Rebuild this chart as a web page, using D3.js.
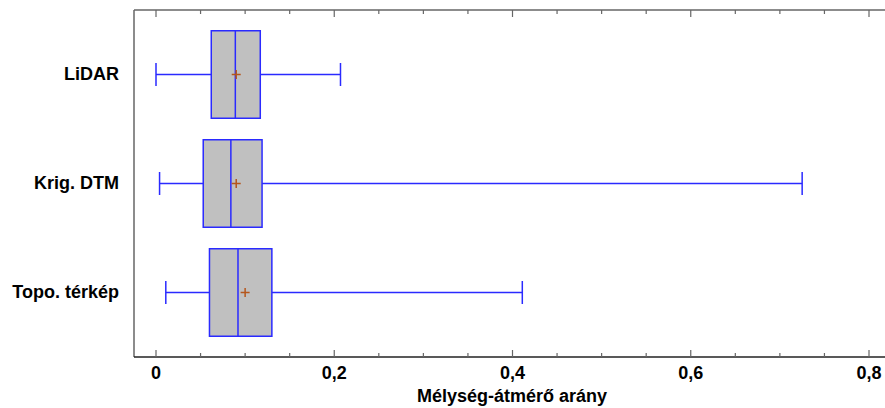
<!DOCTYPE html>
<html>
<head>
<meta charset="utf-8">
<script src="https://cdnjs.cloudflare.com/ajax/libs/d3/7.8.5/d3.min.js"></script>
<style>
    body { margin: 0; background: #fff; }
    text { font-family: "Liberation Sans", Arial, sans-serif; font-weight: bold; }
</style>
</head>
<body>
<div id="chart"></div>
<script>
var categories = ["LiDAR", "Krig. DTM", "Topo. térkép"];
var mins    = [0.000, 0.004, 0.011];
var q1s     = [0.062, 0.053, 0.060];
var medians = [0.089, 0.084, 0.092];
var q3s     = [0.117, 0.119, 0.130];
var maxs    = [0.207, 0.725, 0.411];
var means   = [0.090, 0.090, 0.100];
var major_ticks = [0, 0.2, 0.4, 0.6, 0.8];
var minor_ticks = d3.range(0, 17).map(function(i) { return i * 0.05; });

var width = 885, height = 408;
var frame = {left: 134, top: 10, right: 885, bottom: 357};

var svg = d3.select("#chart").append("svg")
    .attr("width", width)
    .attr("height", height);

var x = d3.scaleLinear()
    .domain([0, 0.8])
    .range([156, 869]);

var y = d3.scalePoint()
    .domain(categories)
    .range([74.5, 292.5]);

var box_h = 87.5;
var cap_h = 23;
var blue = "#2a2aff";

var boxes = categories.map(function(c, i) {
    return {cat: c, min: mins[i], q1: q1s[i], med: medians[i], q3: q3s[i], max: maxs[i], mean: means[i]};
});

// frame
svg.append("line")
    .attr("x1", frame.left).attr("x2", frame.right)
    .attr("y1", frame.top).attr("y2", frame.top)
    .attr("stroke", "#666").attr("stroke-width", 1.5);
svg.append("line")
    .attr("x1", frame.left).attr("x2", frame.left)
    .attr("y1", frame.top).attr("y2", frame.bottom)
    .attr("stroke", "#666").attr("stroke-width", 1.5);
svg.append("line")
    .attr("x1", frame.left).attr("x2", frame.right)
    .attr("y1", frame.bottom).attr("y2", frame.bottom)
    .attr("stroke", "#222").attr("stroke-width", 1.5);

// ticks, pointing inward on top and bottom
svg.selectAll(".tick_b")
    .data(minor_ticks)
    .enter()
    .append("line")
    .attr("class", "tick_b")
    .attr("x1", function(d) { return x(d); })
    .attr("x2", function(d) { return x(d); })
    .attr("y1", frame.bottom)
    .attr("y2", function(d, i) { return frame.bottom - (i % 4 === 0 ? 7 : 4); })
    .attr("stroke", "#666").attr("stroke-width", 1.2);

svg.selectAll(".tick_t")
    .data(minor_ticks)
    .enter()
    .append("line")
    .attr("class", "tick_t")
    .attr("x1", function(d) { return x(d); })
    .attr("x2", function(d) { return x(d); })
    .attr("y1", frame.top)
    .attr("y2", function(d, i) { return frame.top + (i % 4 === 0 ? 7 : 4); })
    .attr("stroke", "#666").attr("stroke-width", 1.2);

svg.selectAll(".tick_label")
    .data(major_ticks)
    .enter()
    .append("text")
    .attr("class", "tick_label")
    .text(function(d) { return d3.format(".1~f")(d).replace(".", ","); })
    .attr("x", function(d) { return x(d); })
    .attr("y", 378.5)
    .attr("text-anchor", "middle")
    .attr("font-size", 18)
    .attr("fill", "#000");

svg.append("text")
    .text("Mélység-átmérő arány")
    .attr("x", 512)
    .attr("y", 402)
    .attr("text-anchor", "middle")
    .attr("font-size", 18)
    .attr("fill", "#000");

svg.selectAll(".cat_label")
    .data(categories)
    .enter()
    .append("text")
    .attr("class", "cat_label")
    .text(function(d) { return d; })
    .attr("x", 119)
    .attr("y", function(d) { return y(d) + 5.5; })
    .attr("text-anchor", "end")
    .attr("font-size", 18)
    .attr("fill", "#000");

// boxes
var g = svg.selectAll(".box")
    .data(boxes)
    .enter()
    .append("g")
    .attr("class", "box")
    .attr("transform", function(d) { return "translate(0," + y(d.cat) + ")"; });

g.append("line")
    .attr("x1", function(d) { return x(d.min); })
    .attr("x2", function(d) { return x(d.q1); })
    .attr("y1", 0).attr("y2", 0)
    .attr("stroke", blue).attr("stroke-width", 1.5);

g.append("line")
    .attr("x1", function(d) { return x(d.q3); })
    .attr("x2", function(d) { return x(d.max); })
    .attr("y1", 0).attr("y2", 0)
    .attr("stroke", blue).attr("stroke-width", 1.5);

g.append("line")
    .attr("x1", function(d) { return x(d.min); })
    .attr("x2", function(d) { return x(d.min); })
    .attr("y1", -cap_h / 2).attr("y2", cap_h / 2)
    .attr("stroke", blue).attr("stroke-width", 1.5);

g.append("line")
    .attr("x1", function(d) { return x(d.max); })
    .attr("x2", function(d) { return x(d.max); })
    .attr("y1", -cap_h / 2).attr("y2", cap_h / 2)
    .attr("stroke", blue).attr("stroke-width", 1.5);

g.append("rect")
    .attr("x", function(d) { return x(d.q1); })
    .attr("width", function(d) { return x(d.q3) - x(d.q1); })
    .attr("y", -box_h / 2)
    .attr("height", box_h)
    .attr("fill", "#c0c0c0")
    .attr("stroke", blue).attr("stroke-width", 1.5);

g.append("line")
    .attr("x1", function(d) { return x(d.med); })
    .attr("x2", function(d) { return x(d.med); })
    .attr("y1", -box_h / 2).attr("y2", box_h / 2)
    .attr("stroke", blue).attr("stroke-width", 1.5);

// mean marker
g.append("path")
    .attr("d", function(d) {
        var mx = x(d.mean);
        return "M" + (mx - 4.5) + ",0H" + (mx + 4.5) + "M" + mx + ",-4.5V4.5";
    })
    .attr("stroke", "#b5561c").attr("stroke-width", 1.5);
</script>
</body>
</html>
